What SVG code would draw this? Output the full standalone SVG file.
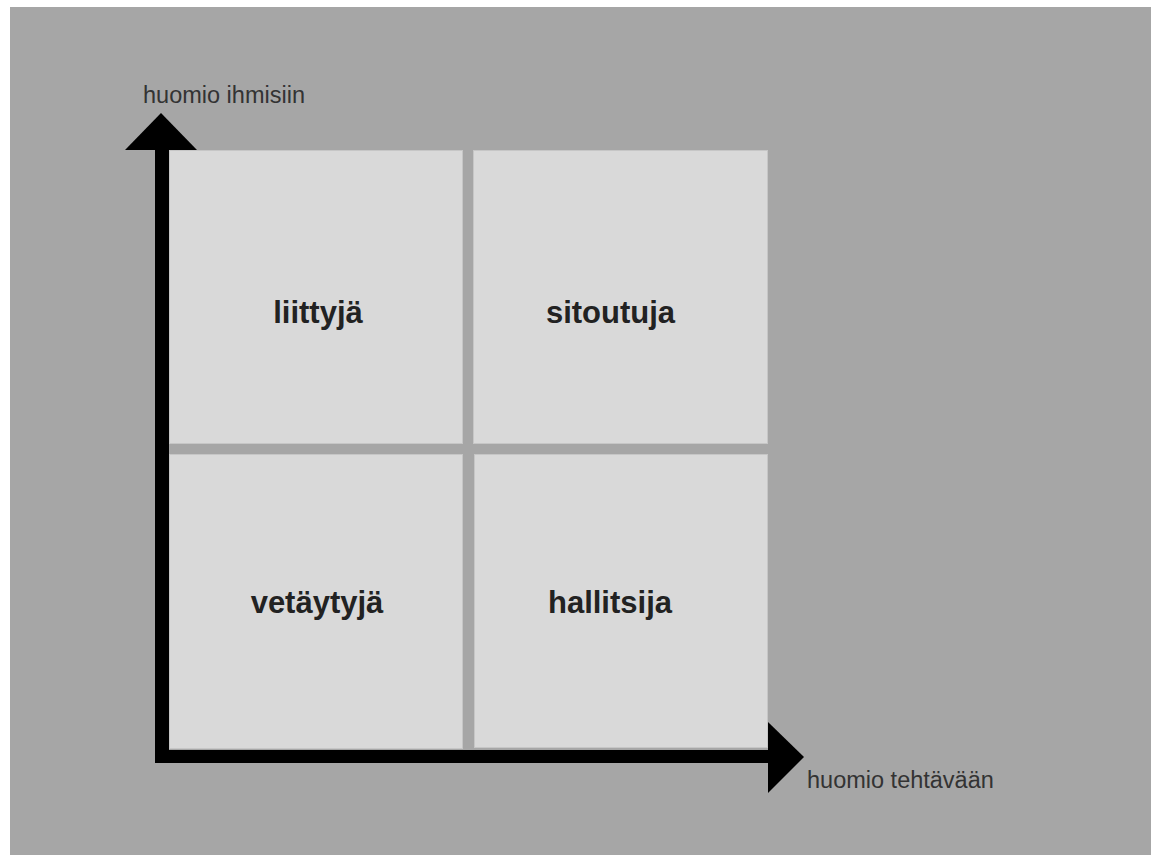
<svg xmlns="http://www.w3.org/2000/svg" width="1151" height="855" viewBox="0 0 1151 855">
<style>
.box{fill:#d9d9d9;stroke:#c6c6c6;stroke-width:1}
.lbl{font-family:"Liberation Sans",Arial,sans-serif;font-weight:bold;font-size:31px;fill:#222;text-anchor:middle}
.ax{font-family:"Liberation Sans",Arial,sans-serif;font-size:23.5px;fill:#333}
.axis{fill:#000}
</style>
<rect x="0" y="0" width="1151" height="855" fill="#ffffff"/>
<rect x="10" y="7" width="1141" height="848" fill="#a6a6a6"/>
<g id="liittyja">
<rect class="box" x="169.5" y="150.5" width="293" height="293"/>
<text class="lbl" x="318" y="323">liittyjä</text>
</g>
<g id="sitoutuja">
<rect class="box" x="473.5" y="150.5" width="294" height="293"/>
<text class="lbl" x="610.5" y="323">sitoutuja</text>
</g>
<g id="vetaytyja">
<rect class="box" x="169.5" y="454.5" width="293" height="294"/>
<text class="lbl" x="317" y="613">vetäytyjä</text>
</g>
<g id="hallitsija">
<rect class="box" x="474.5" y="454.5" width="293" height="293"/>
<text class="lbl" x="610" y="613">hallitsija</text>
</g>
<g id="connectors">
<rect class="axis" x="155" y="148" width="14" height="615"/>
<polygon class="axis" points="125,150 161,113 197,150"/>
<rect class="axis" x="155" y="750" width="615" height="13"/>
<polygon class="axis" points="768,722 804,757 768,793"/>
</g>
<g id="axis-labels">
<text class="ax" x="143" y="103">huomio ihmisiin</text>
<text class="ax" x="807" y="788">huomio tehtävään</text>
</g>
</svg>
